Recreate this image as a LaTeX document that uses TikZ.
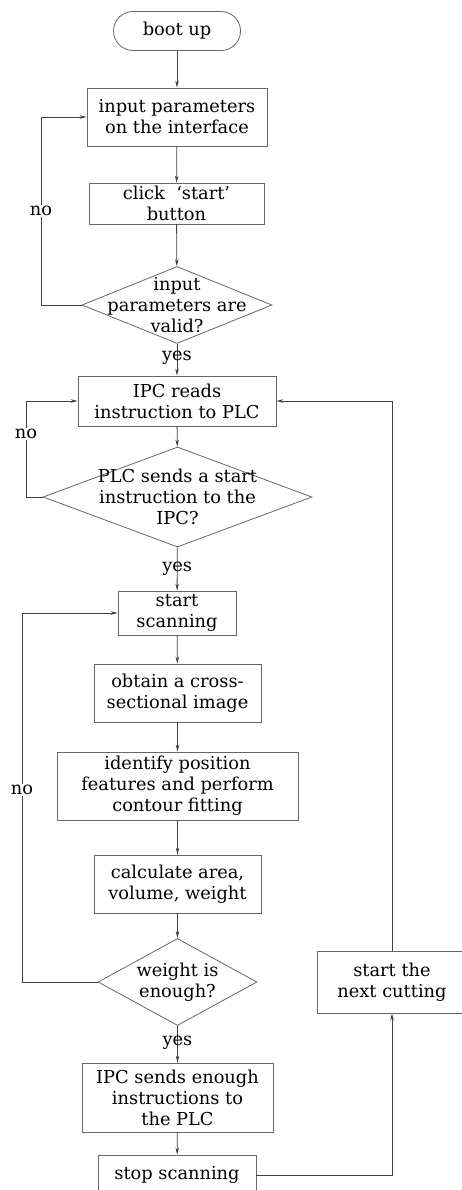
\documentclass[tikz,border=0pt]{standalone}
\usepackage{fontspec}
\setmainfont{DejaVu Serif}
\usetikzlibrary{shapes.geometric,arrows.meta}
\begin{document}
\begin{tikzpicture}[x=1pt,y=-1pt,
  every node/.style={font=\fontsize{17.8}{21}\selectfont, text=black, inner sep=0pt},
  box/.style={draw=black!60, line width=0.8pt, rectangle, align=center},
  dia/.style={draw=black!60, line width=0.8pt, diamond},
  arr/.style={draw=black!75, line width=0.8pt, -{Stealth[length=7pt,width=3.5pt]}},
  lab/.style={fill=white, inner sep=1pt}
]
\useasboundingbox (0,0) rectangle (461,1190);
\node[draw=black!60, line width=0.8pt, rounded corners=19.5pt, minimum width=127, minimum height=39] (boot) at (177,31) {boot up};
\node[box, minimum width=180, minimum height=58] (b1) at (177,117) {input parameters\\on the interface};
\node[box, minimum width=175, minimum height=41] (b2) at (176.5,203.5) {click\ \ ‘start’\\button};
\node[dia, minimum width=190, minimum height=77] (d1) at (177,305) {};
\node[align=center] (t1) at (d1) {input\\parameters are\\valid?};
\node[box, minimum width=198, minimum height=50] (b3) at (177,401) {IPC reads\\instruction to PLC};
\node[dia, minimum width=269, minimum height=100] (d2) at (177.5,497) {};
\node[align=center] (t2) at (d2) {PLC sends a start\\instruction to the\\IPC?};
\node[box, minimum width=118, minimum height=44] (b4) at (177,613) {start\\scanning};
\node[box, minimum width=167, minimum height=58] (b5) at (177.5,693) {obtain a cross-\\sectional image};
\node[box, minimum width=241, minimum height=68] (b6) at (177.5,786) {identify position\\features and perform\\contour fitting};
\node[box, minimum width=167, minimum height=58] (b7) at (177.5,884) {calculate area,\\volume, weight};
\node[dia, minimum width=159, minimum height=87] (d3) at (177.5,982) {};
\node[align=center] (t3) at (d3) {weight is\\enough?};
\node[box, minimum width=191, minimum height=69] (b8) at (177.5,1097.5) {IPC sends enough\\instructions to\\the PLC};
\node[box, minimum width=158, minimum height=40] (b9) at (177,1175) {stop scanning};
\node[box, minimum width=150, minimum height=62] (b10) at (392,982) {start the\\next cutting};

\draw[arr] (boot) -- (b1);
\draw[arr] (b1) -- (b2);
\draw[arr] (b2) -- (d1);
\draw[arr] (d1) -- node[pos=0.45] {yes} (b3);
\draw[arr] (b3) -- (d2);
\draw[arr] (d2) -- node[pos=0.5] {yes} (b4);
\draw[arr] (b4) -- (b5);
\draw[arr] (b5) -- (b6);
\draw[arr] (b6) -- (b7);
\draw[arr] (b7) -- (d3);
\draw[arr] (d3) -- node[pos=0.45] {yes} (b8);
\draw[arr] (b8) -- (b9);
\draw[arr] (d1.west) -- (41,305) |- node[pos=0.25, lab] {no} (b1.west);
\draw[arr] (d2.west) -- (26,497) |- node[pos=0.33, lab] {no} (b3.west);
\draw[arr] (d3.west) -- (22,982) |- node[pos=0.26, lab] {no} (b4.west);
\draw[arr] (b9.east) -| (b10.south);
\draw[arr] (b10.north) |- (b3.east);
\end{tikzpicture}
\end{document}
